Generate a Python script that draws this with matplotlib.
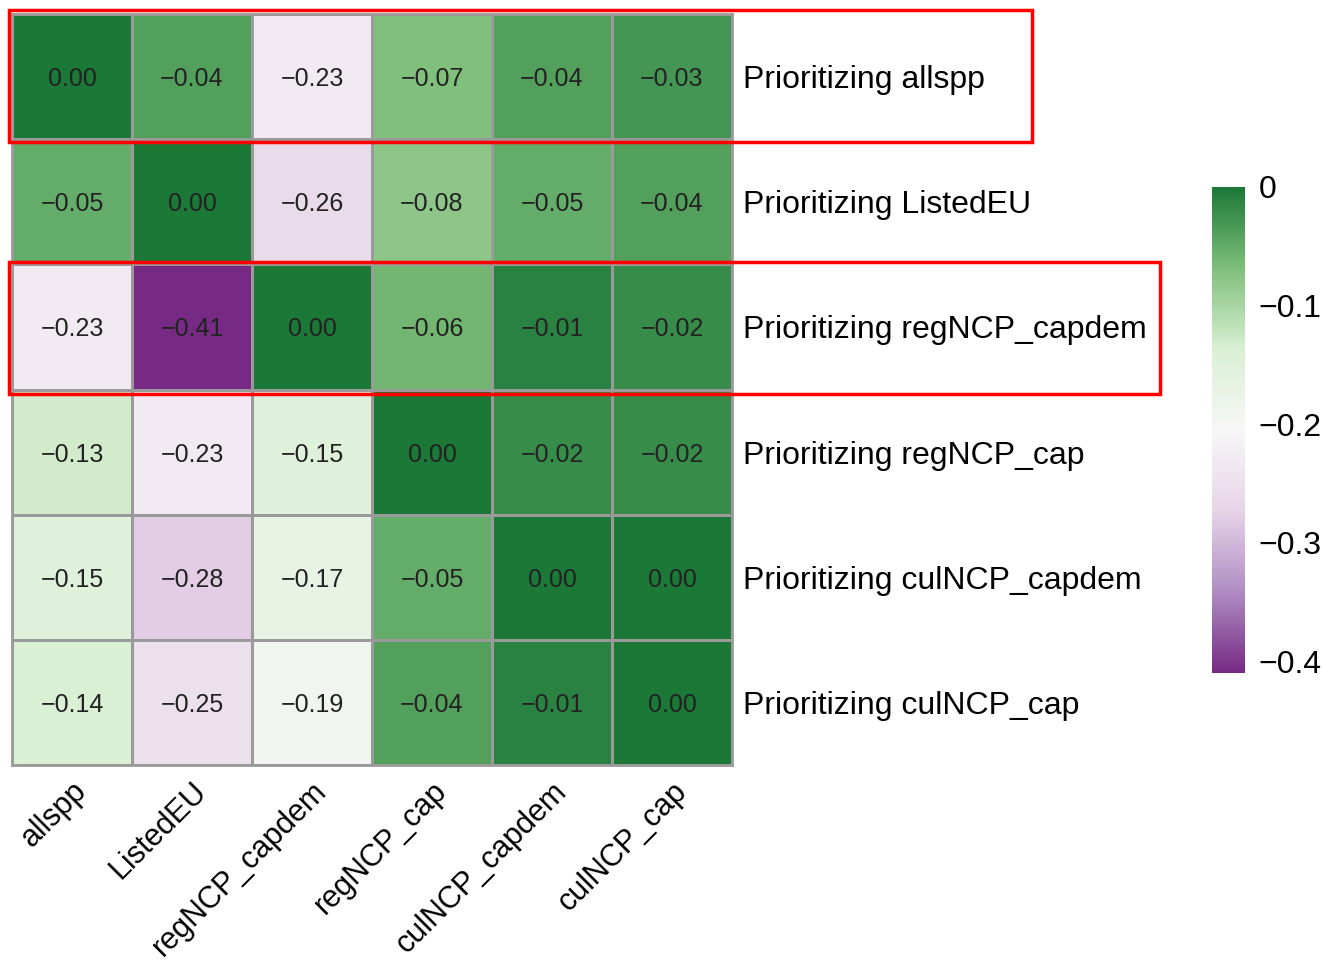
import numpy as np
import matplotlib
matplotlib.use("Agg")
import matplotlib.pyplot as plt
from matplotlib.colors import LinearSegmentedColormap
from matplotlib.patches import Rectangle

plt.rcParams['font.family'] = ['Liberation Sans', 'DejaVu Sans']

col_labels = ["allspp", "ListedEU", "regNCP_capdem", "regNCP_cap", "culNCP_capdem", "culNCP_cap"]
row_labels = ["Prioritizing allspp", "Prioritizing ListedEU", "Prioritizing regNCP_capdem",
              "Prioritizing regNCP_cap", "Prioritizing culNCP_capdem", "Prioritizing culNCP_cap"]

values = np.array([
    [0.00, -0.04, -0.23, -0.07, -0.04, -0.03],
    [-0.05, 0.00, -0.26, -0.08, -0.05, -0.04],
    [-0.23, -0.41, 0.00, -0.06, -0.01, -0.02],
    [-0.13, -0.23, -0.15, 0.00, -0.02, -0.02],
    [-0.15, -0.28, -0.17, -0.05, 0.00, 0.00],
    [-0.14, -0.25, -0.19, -0.04, -0.01, 0.00],
])
highlight_rows = [0, 2]

# brewer PRGn, 7 classes
cmap = LinearSegmentedColormap.from_list(
    "prgn7", ["#762A83", "#AF8DC3", "#E7D4E8", "#F7F7F7", "#D9F0D3", "#7FBF7B", "#1B7837"])
vmin, vmax = -0.41, 0.0

W, H = 1323, 967
fig = plt.figure(figsize=(W / 100, H / 100), dpi=100)

def fig_rect(x0, y0, x1, y1):
    return [x0 / W, 1 - y1 / H, (x1 - x0) / W, (y1 - y0) / H]

ax = fig.add_axes(fig_rect(12, 14, 732, 765))
n_rows, n_cols = values.shape
mesh = ax.pcolormesh(np.arange(n_cols + 1), np.arange(n_rows + 1), values, cmap=cmap,
                     vmin=vmin, vmax=vmax, edgecolors="#9a9a9a", linewidth=2)
ax.set_xlim(0, n_cols)
ax.set_ylim(n_rows, 0)
for s in ax.spines.values():
    s.set_edgecolor("#9a9a9a")
    s.set_linewidth(2)

for i in range(n_rows):
    for j in range(n_cols):
        v = values[i, j]
        txt = "0.00" if v == 0 else f"{v:.2f}".replace("-", "\u2212")
        ax.text(j + 0.5, i + 0.52, txt, ha="center", va="center", fontsize=18, color="#222222")

ax.set_xticks(np.arange(n_cols) + 0.5)
ax.set_xticklabels(col_labels, rotation=45, ha="right", rotation_mode="anchor", fontsize=22)
ax.set_yticks(np.arange(n_rows) + 0.5)
ax.set_yticklabels(row_labels, fontsize=23)
ax.yaxis.tick_right()
ax.tick_params(axis="both", length=0)
ax.tick_params(axis="y", pad=8)
ax.tick_params(axis="x", pad=8)

# red highlight boxes around chosen rows
box_y = {0: (10, 142), 2: (262, 394)}
box_right = {0: 1032, 2: 1160}
for r in highlight_rows:
    y0, y1 = box_y[r]
    fig.patches.append(Rectangle((9 / W, 1 - y1 / H), (box_right[r] - 9) / W, (y1 - y0) / H,
                                 transform=fig.transFigure, fill=False, edgecolor="red",
                                 linewidth=2.5, zorder=10))

cax = fig.add_axes(fig_rect(1212, 187, 1245, 673))
cb = fig.colorbar(mesh, cax=cax)
cb.outline.set_visible(False)
cb.set_ticks([0, -0.1, -0.2, -0.3, -0.4])
cb.set_ticklabels(["0", "\u22120.1", "\u22120.2", "\u22120.3", "\u22120.4"])
cax.tick_params(length=0, labelsize=23, pad=10)

fig.savefig("out.png", dpi=100)
